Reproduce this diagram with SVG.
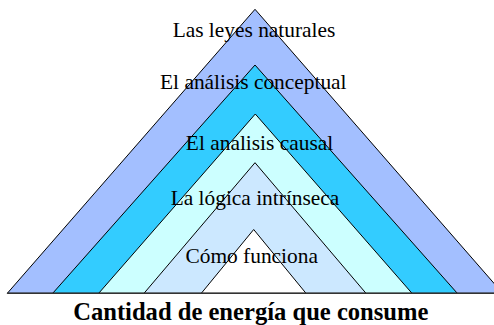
<svg xmlns="http://www.w3.org/2000/svg" width="494" height="325" viewBox="0 0 494 325">
<style>
.tri{stroke:#000;stroke-width:1;stroke-linejoin:miter}
.lbl{font-family:"Liberation Serif","Times New Roman",serif;font-size:21.4px;fill:#000;text-anchor:middle}
.ttl{font-family:"Liberation Serif","Times New Roman",serif;font-size:24.6px;font-weight:bold;fill:#000;text-anchor:middle}
</style>
<rect width="494" height="325" fill="#fff"/>
<g id="layer1"><polygon class="tri" fill="#a3bfff" points="255,9.3 7.3,293.3 502.7,293.3"/></g>
<g id="layer2"><polygon class="tri" fill="#33ccff" points="255,65 52.7,293.3 457.3,293.3"/></g>
<g id="layer3"><polygon class="tri" fill="#ccffff" points="255.3,114 98.7,293.3 412,293.3"/></g>
<g id="layer4"><polygon class="tri" fill="#cce8ff" points="255,162.7 144,293.3 366,293.3"/></g>
<g id="layer5"><polygon class="tri" fill="#ffffff" points="253.7,229.5 201.3,293.3 306,293.3"/></g>
<g id="connectors"><line x1="7.3" y1="293.3" x2="494" y2="293.3" stroke="#333" stroke-width="1.5"/></g>
<g id="labels">
<text class="lbl" x="254" y="37">Las leyes naturales</text>
<text class="lbl" x="253.3" y="89">El análisis conceptual</text>
<text class="lbl" x="259.5" y="149.5">El analisis causal</text>
<text class="lbl" x="255" y="204.5">La lógica intrínseca</text>
<text class="lbl" x="251.7" y="263">Cómo funciona</text>
<text class="ttl" x="250.8" y="320">Cantidad de energía que consume</text>
</g>
</svg>
